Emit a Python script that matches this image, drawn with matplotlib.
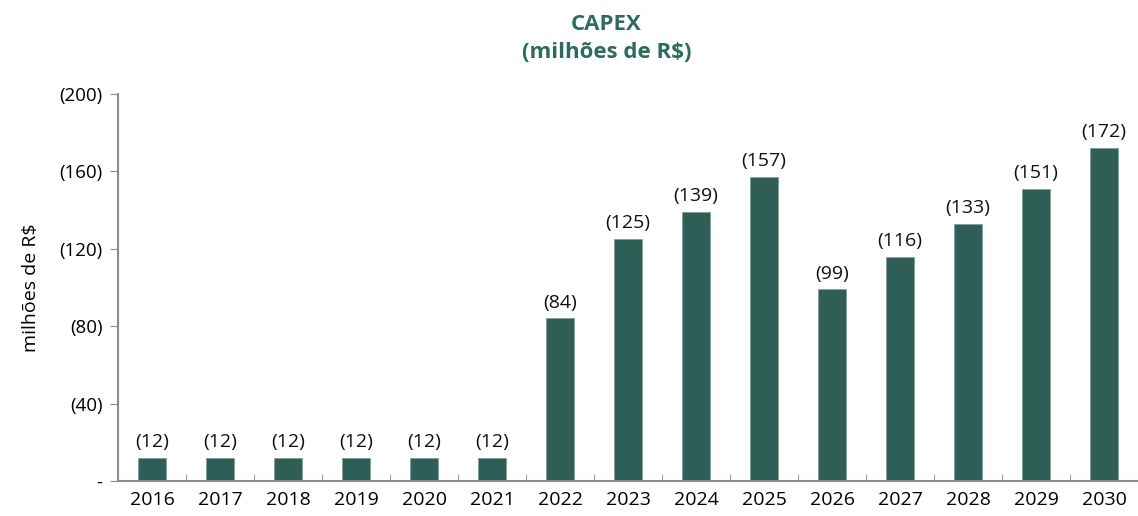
import matplotlib
matplotlib.use("Agg")
import matplotlib.pyplot as plt
import numpy as np

# capex por ano (milhões de R$), valores negativos mostrados em parênteses
years = ["2016", "2017", "2018", "2019", "2020", "2021", "2022", "2023",
         "2024", "2025", "2026", "2027", "2028", "2029", "2030"]
capex = [12, 12, 12, 12, 12, 12, 84, 125, 139, 157, 99, 116, 133, 151, 172]
yticks = [0, 40, 80, 120, 160, 200]
ytick_labels = ["-", "(40)", "(80)", "(120)", "(160)", "(200)"]

bar_color = "#2F5E56"
title_color = "#2E6B5E"
axis_color = "#8C8C8C"

plt.rcParams['font.family'] = ['Open Sans', 'DejaVu Sans']

fig = plt.figure(figsize=(11.38, 5.16), dpi=100)
ax = fig.add_axes([0.1037, 0.0678, 0.8963, 0.75])

x = np.arange(len(years))
ax.bar(x, capex, width=0.4, color=bar_color, edgecolor="#7FA39B", linewidth=0.6)

for xi, v in zip(x, capex):
    ax.annotate("(%d)" % v, (xi, v), xytext=(0, 5), textcoords="offset points",
                ha="center", va="bottom", fontsize=14, color="#111111")

ax.set_xlim(-0.5, len(years) - 0.5)
ax.set_ylim(0, 200)
ax.set_yticks(yticks)
ax.set_yticklabels(ytick_labels, fontsize=13.5)

# rótulos dos anos no centro, marcas entre as categorias
ax.set_xticks(x)
ax.set_xticklabels(years, fontsize=14)
ax.tick_params(axis="x", length=0, pad=7)
ax.set_xticks(np.arange(0.5, len(years) - 1, 1.0), minor=True)
ax.tick_params(axis="x", which="minor", direction="in", length=5, color=axis_color)
ax.tick_params(axis="y", length=6, color=axis_color, pad=5)

for side in ["top", "right"]:
    ax.spines[side].set_visible(False)
for side in ["left", "bottom"]:
    ax.spines[side].set_color(axis_color)
    ax.spines[side].set_linewidth(1.5)

ax.set_ylabel("milhões de R$", fontsize=14, labelpad=14)
fig.text(0.533, 0.953, "CAPEX", ha="center", va="center", fontsize=16,
         fontweight="bold", color=title_color)
fig.text(0.533, 0.898, "(milhões de R$)", ha="center", va="center", fontsize=16,
         fontweight="bold", color=title_color)

fig.savefig("out.png", dpi=100)
